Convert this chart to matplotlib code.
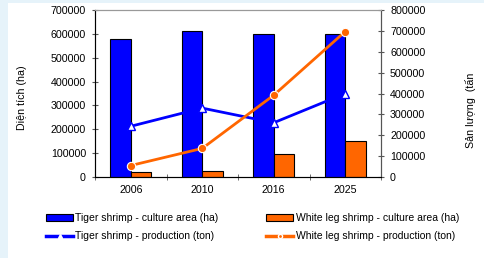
import numpy as np
import matplotlib
matplotlib.use('Agg')
import matplotlib.pyplot as plt
from matplotlib.patches import Rectangle
from matplotlib.lines import Line2D

plt.rcParams['font.family'] = ['Liberation Sans', 'DejaVu Sans']
fs = 7.7
lfs = 7.5

years = ['2006', '2010', '2016', '2025']
tiger_area = [580000, 613000, 600000, 600000]
white_area = [20000, 25000, 95000, 150000]
tiger_prod = [243000, 330000, 260000, 400000]
white_prod = [55000, 137000, 392000, 697000]

W, H = 484, 258
fig = plt.figure(figsize=(W / 100, H / 100), dpi=100, facecolor='#e6f3fa')
fig.patches.append(Rectangle((8 / W, 0), 1, 1 - 3 / H, transform=fig.transFigure,
                             facecolor='white', edgecolor='none', zorder=-10))

ax = fig.add_axes([95 / W, 1 - 177 / H, (381 - 95) / W, (177 - 10) / H])
ax.set_facecolor('none')
x = np.arange(len(years))
w = 0.29
b1 = ax.bar(x - w / 2, tiger_area, w, color='#0000ff', edgecolor='black', linewidth=0.8)
b2 = ax.bar(x + w / 2, white_area, w, color='#ff6600', edgecolor='black', linewidth=0.8)
ax.set_xlim(-0.5, len(years) - 0.5)
ax.set_ylim(0, 700000)
ax.set_yticks(np.arange(0, 700001, 100000))
ax.set_xticks(x)
ax.set_xticklabels(years, fontsize=fs)
ax.set_xticks(np.arange(-0.5, len(years)), minor=True)
ax.tick_params(axis='x', which='major', length=0, pad=6)
ax.tick_params(axis='x', which='minor', length=5, direction='inout', color='#555555')
ax.tick_params(axis='y', length=5, direction='inout', labelsize=fs, color='#555555', pad=4)
for s in ['left', 'bottom', 'right']:
    ax.spines[s].set_color('#555555')
ax.spines['top'].set_color('#999999')

ax2 = ax.twinx()
ax2.set_ylim(0, 800000)
ax2.set_yticks(np.arange(0, 800001, 100000))
ax2.tick_params(axis='y', length=5, direction='inout', labelsize=fs, color='#555555', pad=4)
ax2.spines['right'].set_color('#555555')
ax2.spines['top'].set_color('#999999')
ax2.plot(x, tiger_prod, color='#0000ff', lw=2, marker='^', ms=6,
         mfc='white', mec='#0000ff', mew=1)
ax2.plot(x, white_prod, color='#ff6600', lw=2, marker='o', ms=6,
         mfc='#ff6600', mec='white', mew=0.8)

fig.text(22 / W, 1 - 98 / H, 'Diện tích (ha)', rotation=90, fontsize=fs,
         ha='center', va='center')
fig.text(470 / W, 1 - 110 / H, 'Sản lượng  (tấn', rotation=90, fontsize=fs,
         ha='center', va='center')

h1 = Line2D([], [], color='#0000ff', lw=2.5, marker='^', ms=3, mfc='white', mec='white')
h2 = Line2D([], [], color='#ff6600', lw=2.5, marker='o', ms=3, mfc='#ff6600', mec='white')
fig.legend([b1, h1, b2, h2],
           ['Tiger shrimp - culture area (ha)', 'Tiger shrimp - production (ton)',
            'White leg shrimp - culture area (ha)', 'White leg shrimp - production (ton)'],
           ncol=2, loc='upper left', bbox_to_anchor=(46 / W, 1 - 213 / H),
           frameon=False, fontsize=lfs, handlelength=2.6, handletextpad=0.2,
           columnspacing=4.6, borderpad=0, borderaxespad=0, labelspacing=0.8)

fig.savefig('out.png', dpi=100)
